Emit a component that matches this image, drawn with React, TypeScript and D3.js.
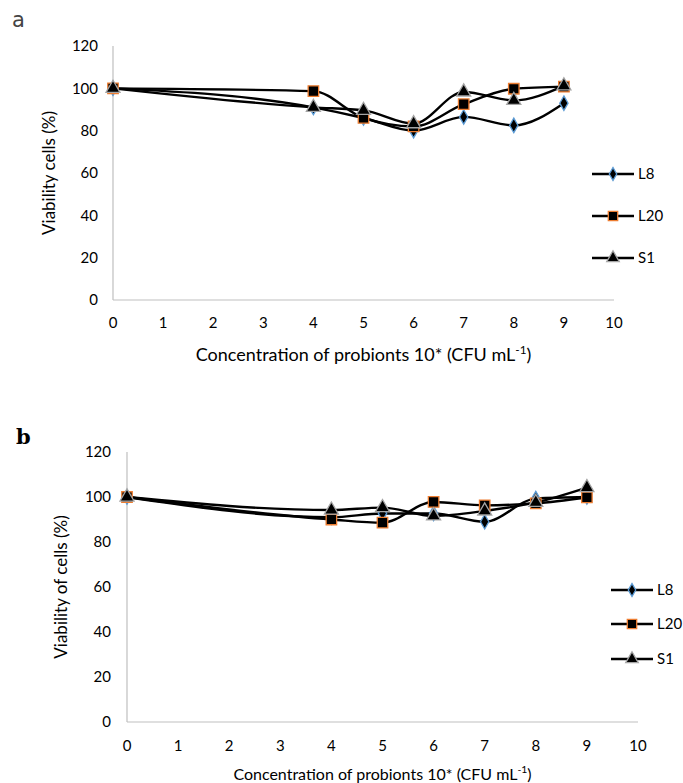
import React, { useEffect, useRef } from 'react';
import * as d3 from 'd3';

const concentrations = [0, 4, 5, 6, 7, 8, 9];
const xTicks = [0, 1, 2, 3, 4, 5, 6, 7, 8, 9, 10];
const yTicks = [0, 20, 40, 60, 80, 100, 120];
const seriesNames = ['L8', 'L20', 'S1'];

// panel a
const a_L8 = [100, 91, 86, 80, 86.5, 82.5, 93];
const a_L20 = [100, 98.7, 86, 82, 92.5, 99.8, 100.8];
const a_S1 = [100, 91, 89.6, 83.3, 98.3, 94.3, 101.2];

// panel b
const b_L8 = [100, 91, 92.7, 92.7, 89, 99.3, 100];
const b_L20 = [100, 90, 88.6, 97.8, 96.3, 97.2, 99.8];
const b_S1 = [100, 94.2, 95.3, 91.6, 93.8, 97.6, 104.2];

const FONT = 'Lato, "Open Sans", sans-serif';
const markerFill = '#000';
const markerStroke = ['#5b9bd5', '#ed7d31', '#a5a5a5'];
const markerShape = [d3.symbolDiamond, d3.symbolSquare, d3.symbolTriangle];
const markerSize = [60, 110, 85];

type PanelProps = {
  x0: number; x1: number; yTop: number; yBottom: number;
  values: number[][];
  yTitle: string; yTitleX: number; yTickGap: number;
  tickSize: number; titleSize: number; legendSize: number;
  letter: string; letterBold: boolean; letterX: number; letterY: number;
  xLabelY: number; xTitleY: number; xTitleSize: number;
  legendX: number; legendYs: number[];
};

function Panel(p: PanelProps) {
  const ref = useRef<SVGGElement>(null);

  useEffect(() => {
    const g = d3.select(ref.current);
    g.selectAll('*').remove();

    const x = d3.scaleLinear().domain([0, 10]).range([p.x0, p.x1]);
    const y = d3.scaleLinear().domain([0, 120]).range([p.yBottom, p.yTop]);

    // axis lines, no tick marks
    g.append('line').attr('x1', p.x0).attr('x2', p.x0).attr('y1', p.yTop).attr('y2', p.yBottom)
      .attr('stroke', '#bfbfbf').attr('stroke-width', 1.2);
    g.append('line').attr('x1', p.x0).attr('x2', p.x1).attr('y1', p.yBottom).attr('y2', p.yBottom)
      .attr('stroke', '#bfbfbf').attr('stroke-width', 1.2);

    g.selectAll('.yt').data(yTicks).enter().append('text')
      .attr('x', p.x0 - p.yTickGap).attr('y', d => y(d)).attr('dy', '0.35em')
      .attr('text-anchor', 'end').attr('font-size', p.tickSize).attr('font-family', FONT).attr('fill', '#000')
      .text(d => d);
    g.selectAll('.xt').data(xTicks).enter().append('text')
      .attr('x', d => x(d)).attr('y', p.xLabelY).attr('dy', '0.35em')
      .attr('text-anchor', 'middle').attr('font-size', p.tickSize).attr('font-family', FONT).attr('fill', '#000')
      .text(d => d);

    const xt = g.append('text').attr('x', (p.x0 + p.x1) / 2).attr('y', p.xTitleY)
      .attr('text-anchor', 'middle').attr('font-size', p.xTitleSize).attr('font-family', FONT).attr('fill', '#000');
    xt.append('tspan').text('Concentration of probionts 10* (CFU mL');
    xt.append('tspan').attr('font-size', p.xTitleSize * 0.65).attr('dy', -7).text('-1');
    xt.append('tspan').attr('dy', 7).text(')');

    g.append('text')
      .attr('transform', `translate(${p.yTitleX},${(p.yTop + p.yBottom) / 2}) rotate(-90)`)
      .attr('text-anchor', 'middle').attr('font-size', p.titleSize).attr('font-family', FONT).attr('fill', '#000')
      .text(p.yTitle);

    g.append('text').attr('x', p.letterX).attr('y', p.letterY)
      .attr('font-size', p.letterBold ? 21 : 21).attr('font-weight', p.letterBold ? 'bold' : 'normal')
      .attr('font-family', p.letterBold ? '"DejaVu Serif", serif' : '"DejaVu Sans", sans-serif')
      .attr('fill', p.letterBold ? '#000' : '#444')
      .text(p.letter);

    const line = d3.line<number>()
      .x((_, i) => x(concentrations[i]))
      .y(d => y(d))
      .curve(d3.curveMonotoneX);

    p.values.forEach(vals => {
      g.append('path').datum(vals).attr('d', line)
        .attr('fill', 'none').attr('stroke', '#000').attr('stroke-width', 2.4);
    });
    p.values.forEach((vals, si) => {
      const sym = d3.symbol(markerShape[si], markerSize[si]);
      g.selectAll(`.m${si}`).data(vals).enter().append('path')
        .attr('d', sym)
        .attr('transform', (d, i) => `translate(${x(concentrations[i])},${y(d)})`)
        .attr('fill', markerFill).attr('stroke', markerStroke[si]).attr('stroke-width', 1.3);
    });

    seriesNames.forEach((name, si) => {
      const ly = p.legendYs[si];
      g.append('line').attr('x1', p.legendX).attr('x2', p.legendX + 42).attr('y1', ly).attr('y2', ly)
        .attr('stroke', '#000').attr('stroke-width', 2.4);
      g.append('path').attr('d', d3.symbol(markerShape[si], markerSize[si] * 0.8))
        .attr('transform', `translate(${p.legendX + 21},${ly})`)
        .attr('fill', markerFill).attr('stroke', markerStroke[si]).attr('stroke-width', 1.3);
      g.append('text').attr('x', p.legendX + 46).attr('y', ly).attr('dy', '0.35em')
        .attr('font-size', p.legendSize).attr('font-family', FONT).attr('fill', '#000').text(name);
    });
  }, []);

  return <g ref={ref} />;
}

export default function App() {
  return (
    <svg width={683} height={783} style={{ position: 'absolute', left: 0, top: 0, background: '#fff' }}>
      <rect width={683} height={783} fill="#fff" />
      <Panel x0={113} x1={614} yTop={46} yBottom={300}
        values={[a_L8, a_L20, a_S1]} yTitle="Viability cells (%)" yTitleX={55} yTickGap={15}
        tickSize={15} titleSize={17} legendSize={15}
        letter="a" letterBold={false} letterX={12} letterY={27}
        xLabelY={323} xTitleY={361} xTitleSize={18}
        legendX={592} legendYs={[174, 216, 258]} />
      <Panel x0={127} x1={638} yTop={452} yBottom={722}
        values={[b_L8, b_L20, b_S1]} yTitle="Viability of cells (%)" yTitleX={67} yTickGap={16}
        tickSize={15} titleSize={17} legendSize={15}
        letter="b" letterBold={true} letterX={16} letterY={444}
        xLabelY={746} xTitleY={780} xTitleSize={16}
        legendX={611} legendYs={[590, 624, 659]} />
    </svg>
  );
}
